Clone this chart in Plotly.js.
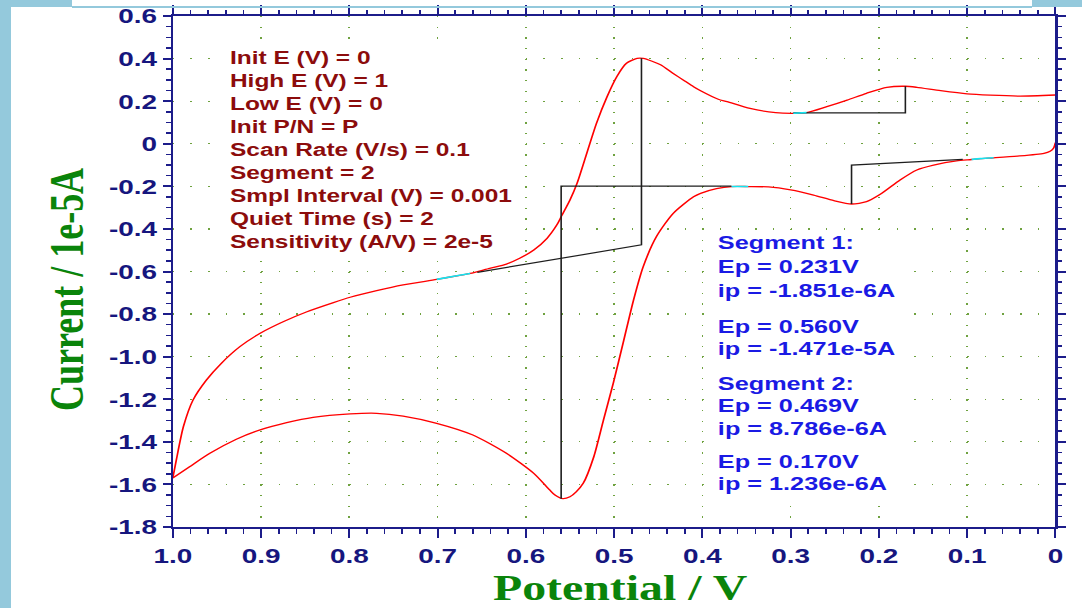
<!DOCTYPE html>
<html>
<head>
<meta charset="utf-8">
<script src="https://cdn.plot.ly/plotly-3.0.1.min.js"></script>
<style>
html,body{margin:0;padding:0;background:#fff;overflow:hidden;width:1082px;height:608px;}
#wrap{position:absolute;left:0;top:0;width:814px;height:608px;transform:scale(1.32924,1);transform-origin:0 0;}
#chart{width:814px;height:608px;}
.strip{position:absolute;background:#94c9dc;z-index:5;}
</style>
</head>
<body>
<div id="wrap"><div id="chart"></div></div>
<div class="strip" style="left:0;top:0;width:11px;height:608px"></div>
<div class="strip" style="left:0;top:0;width:72px;height:7px"></div>
<div class="strip" style="left:72px;top:6px;width:960px;height:1.5px"></div>
<div class="strip" style="left:1032px;top:0;width:50px;height:7px"></div>
<script>
// ---------- data (Potential in V, Current in 1e-5 A) ----------
const xTickVals = [1.0, 0.9, 0.8, 0.7, 0.6, 0.5, 0.4, 0.3, 0.2, 0.1, 0];
const xTickText = ['1.0', '0.9', '0.8', '0.7', '0.6', '0.5', '0.4', '0.3', '0.2', '0.1', '0'];
const yTickVals = [0.6, 0.4, 0.2, 0, -0.2, -0.4, -0.6, -0.8, -1.0, -1.2, -1.4, -1.6, -1.8];
const yTickText = ['0.6', '0.4', '0.2', '0', '-0.2', '-0.4', '-0.6', '-0.8', '-1.0', '-1.2', '-1.4', '-1.6', '-1.8'];

// Segment 1: scan from 0 V to 1.0 V (lower branch)
const seg1Potential = [0, 0.002, 0.006, 0.013, 0.043, 0.070, 0.085, 0.095, 0.112, 0.138,
  0.157, 0.176, 0.198, 0.214, 0.231, 0.251, 0.274, 0.300, 0.325, 0.348,
  0.367, 0.384, 0.402, 0.410, 0.433, 0.452, 0.467, 0.478, 0.489, 0.501,
  0.512, 0.523, 0.535, 0.543, 0.550, 0.558, 0.567, 0.573, 0.591, 0.622,
  0.660, 0.701, 0.739, 0.769, 0.799, 0.841, 0.871, 0.901, 0.928, 0.958,
  0.981, 1.000];
const seg1Current = [0.005, -0.020, -0.035, -0.045, -0.058, -0.066, -0.070, -0.074, -0.080, -0.100,
  -0.123, -0.170, -0.236, -0.272, -0.283, -0.267, -0.241, -0.217, -0.203, -0.201,
  -0.201, -0.211, -0.233, -0.249, -0.327, -0.436, -0.577, -0.734, -0.922, -1.125,
  -1.297, -1.470, -1.595, -1.635, -1.658, -1.667, -1.650, -1.626, -1.548, -1.454,
  -1.368, -1.313, -1.279, -1.266, -1.269, -1.285, -1.310, -1.344, -1.388, -1.454,
  -1.517, -1.570];

// Segment 2: scan from 1.0 V back to 0 V (upper branch)
const seg2Potential = [1.000, 0.996, 0.988, 0.977, 0.962, 0.945, 0.924, 0.901, 0.875, 0.848,
  0.818, 0.799, 0.769, 0.739, 0.701, 0.675, 0.663, 0.641, 0.622, 0.607,
  0.591, 0.576, 0.565, 0.559, 0.550, 0.542, 0.531, 0.520, 0.508, 0.497,
  0.486, 0.474, 0.467, 0.448, 0.433, 0.420, 0.410, 0.402, 0.382, 0.372,
  0.346, 0.317, 0.297, 0.282, 0.259, 0.236, 0.214, 0.191, 0.170, 0.157,
  0.130, 0.100, 0.074, 0.040, 0.000];
const seg2Current = [-1.570, -1.485, -1.329, -1.203, -1.110, -1.031, -0.953, -0.890, -0.836, -0.789,
  -0.746, -0.721, -0.690, -0.663, -0.637, -0.618, -0.609, -0.585, -0.565, -0.538,
  -0.499, -0.444, -0.382, -0.335, -0.264, -0.186, -0.045, 0.096, 0.221, 0.315,
  0.378, 0.401, 0.401, 0.372, 0.330, 0.295, 0.268, 0.249, 0.209, 0.198,
  0.166, 0.146, 0.143, 0.146, 0.174, 0.205, 0.237, 0.265, 0.270, 0.265,
  0.249, 0.234, 0.228, 0.224, 0.229];

// Peak baselines (start of baseline, peak potential, peak current)
const base1aPotential = [0.105, 0.231, 0.231];
const base1aCurrent = [-0.073, -0.100, -0.283];
const base1bPotential = [0.367, 0.560, 0.560];
const base1bCurrent = [-0.199, -0.199, -1.667];
const base2aPotential = [0.655, 0.469, 0.469];
const base2aCurrent = [-0.604, -0.475, 0.401];
const base2bPotential = [0.297, 0.170, 0.170];
const base2bCurrent = [0.145, 0.145, 0.270];

// Potential windows used for baseline fitting (highlighted)
const seg1FitWindows = [[0.070, 0.095], [0.348, 0.367]];
const seg2FitWindows = [[0.282, 0.297], [0.660, 0.701]];

const paramLines = ['Init E (V) = 0', 'High E (V) = 1', 'Low E (V) = 0', 'Init P/N = P',
  'Scan Rate (V/s) = 0.1', 'Segment = 2', 'Smpl Interval (V) = 0.001', 'Quiet Time (s) = 2',
  'Sensitivity (A/V) = 2e-5'];
const resultLines = ['Segment 1:', 'Ep = 0.231V', 'ip = -1.851e-6A', 'Ep = 0.560V', 'ip = -1.471e-5A',
  'Segment 2:', 'Ep = 0.469V', 'ip = 8.786e-6A', 'Ep = 0.170V', 'ip = 1.236e-6A'];

// ---------- styles / layout positions ----------
const AXIS = '#1c1c8a', TICK = '#16167e', GRID = '#6fa23f', GREEN = '#0a840a';
const RED = '#ff0000', MAROON = '#8c0c0c', BLUE = '#1a1ae4', CYAN = '#12e6f2';
const SANS = 'Liberation Sans, Arial, sans-serif', SERIF = 'Liberation Serif, Times New Roman, serif';
const paramX = 0.938, paramY0 = 0.403, paramStep = 0.108;
const resultX = 0.3850;
const resultY = [-0.466, -0.577, -0.687, -0.859, -0.961, -1.125, -1.227, -1.336, -1.493, -1.595];

function windowTrace(px, py, w) {
  const xs = [], ys = [];
  px.forEach((v, i) => { if (v >= w[0] - 1e-9 && v <= w[1] + 1e-9) { xs.push(v); ys.push(py[i]); } });
  return {x: xs, y: ys, mode: 'lines', line: {color: CYAN, width: 1.6, shape: 'spline', smoothing: 0.7}, hoverinfo: 'skip'};
}

const curveLine = {color: RED, width: 1.3, shape: 'spline', smoothing: 0.7};
const baseLine = {color: '#1e1e1e', width: 1.2};
const traces = [
  {x: seg1Potential, y: seg1Current, mode: 'lines', line: curveLine, name: 'Segment 1'},
  {x: seg2Potential, y: seg2Current, mode: 'lines', line: curveLine, name: 'Segment 2'},
  {x: base1aPotential, y: base1aCurrent, mode: 'lines', line: baseLine},
  {x: base1bPotential, y: base1bCurrent, mode: 'lines', line: baseLine},
  {x: base2aPotential, y: base2aCurrent, mode: 'lines', line: baseLine},
  {x: base2bPotential, y: base2bCurrent, mode: 'lines', line: baseLine}
];
seg1FitWindows.forEach(w => traces.push(windowTrace(seg1Potential, seg1Current, w)));
seg2FitWindows.forEach(w => traces.push(windowTrace(seg2Potential, seg2Current, w)));

const annotations = [];
paramLines.forEach((t, i) => annotations.push({
  text: t, x: paramX, y: paramY0 - i * paramStep, xref: 'x', yref: 'y',
  xanchor: 'left', yanchor: 'middle', showarrow: false,
  font: {family: SANS, size: 18.4, color: MAROON, weight: 'bold'}
}));
resultLines.forEach((t, i) => annotations.push({
  text: t, x: resultX, y: resultY[i], xref: 'x', yref: 'y',
  xanchor: 'left', yanchor: 'middle', showarrow: false,
  font: {family: SANS, size: 19, color: BLUE, weight: 'bold'}
}));

const layout = {
  width: 814, height: 608,
  margin: {l: 130, r: 20, t: 16, b: 81, pad: 0},
  paper_bgcolor: '#ffffff', plot_bgcolor: '#ffffff',
  showlegend: false,
  xaxis: {
    range: [1.0, 0], autorange: false,
    tickmode: 'array', tickvals: xTickVals, ticktext: xTickText,
    ticks: 'outside', ticklen: 9, tickwidth: 1.6, tickcolor: AXIS,
    showline: true, linewidth: 2, linecolor: AXIS, mirror: 'allticks',
    showgrid: true, gridcolor: GRID, gridwidth: 1.3, griddash: '1.3px,9.346px',
    zeroline: false,
    tickfont: {family: SANS, size: 21, color: TICK, weight: 'bold'},
    minor: {tickmode: 'linear', tick0: 0, dtick: 0.02, ticks: 'outside', ticklen: 4.5, tickwidth: 1.2, tickcolor: AXIS, showgrid: false},
    title: {text: '<b>&nbsp;Potential / V</b>', font: {family: SERIF, size: 36, color: GREEN}, standoff: 14}
  },
  yaxis: {
    range: [-1.8, 0.6], autorange: false,
    tickmode: 'array', tickvals: yTickVals, ticktext: yTickText,
    ticks: 'outside', ticklen: 6, tickwidth: 2, tickcolor: AXIS,
    showline: true, linewidth: 1.7, linecolor: AXIS, mirror: 'allticks',
    showgrid: true, gridcolor: GRID, gridwidth: 1.3, griddash: '1.1px,12.18px',
    zeroline: false,
    tickfont: {family: SANS, size: 21, color: TICK, weight: 'bold'},
    minor: {tickmode: 'linear', tick0: 0, dtick: 0.05, ticks: 'outside', ticklen: 3.5, tickwidth: 1.5, tickcolor: AXIS, showgrid: false},
    title: {text: '<b>Current / 1e-5A&nbsp;&nbsp;&nbsp;&nbsp;</b>', font: {family: SERIF, size: 36, color: GREEN}, standoff: 8}
  },
  shapes: [
    {type: 'rect', xref: 'x', yref: 'y', x0: 0.947, x1: 0.601, y0: 0.464, y1: -0.522, fillcolor: '#ffffff', line: {width: 0}, layer: 'between'},
    {type: 'rect', xref: 'x', yref: 'y', x0: 0.396, x1: 0.164, y0: -0.4145, y1: -1.659, fillcolor: '#ffffff', line: {width: 0}, layer: 'between'}
  ],
  annotations: annotations
};

Plotly.newPlot('chart', traces, layout, {staticPlot: true, displayModeBar: false});
</script>
</body>
</html>
